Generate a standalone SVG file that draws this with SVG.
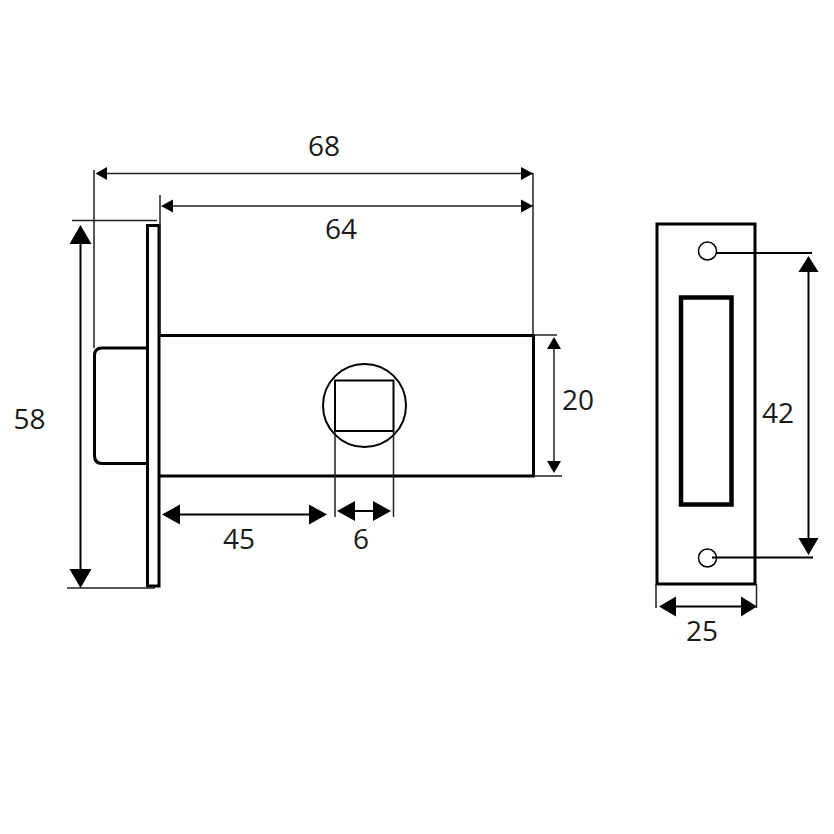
<svg xmlns="http://www.w3.org/2000/svg" width="834" height="834" viewBox="0 0 834 834">
<style>
text{font-family:"Open Sans","Noto Sans",sans-serif;font-size:28px;fill:#1a1a1a;text-anchor:middle}
.o{fill:none;stroke:#000;stroke-width:3}
.l{fill:none;stroke:#222;stroke-width:1.500}
.d{fill:none;stroke:#000;stroke-width:2}
.h{fill:#000;stroke:none}
</style>
<rect width="834" height="834" fill="#fff"/>
<g id="lock">
<path id="bolt" class="o" d="M147.500 348H102Q94.500 348 94.500 355.500V455.500Q94.500 463.500 102 463.500H147.500"/>
<rect id="plate" class="o" x="147.500" y="225.500" width="11.500" height="360.500"/>
<path id="body" class="o" d="M160 335.500H533.500V476H160"/>
<path id="body-edge" class="o" d="M533.500 335.500V375"/>
<circle id="spindle" cx="364.500" cy="405.500" r="41.500" fill="none" stroke="#000" stroke-width="2"/>
<rect id="square" x="335" y="380.500" width="58.500" height="50.500" fill="none" stroke="#000" stroke-width="2"/>
</g>
<g id="strike">
<rect id="strike-plate" class="o" x="657" y="224" width="98" height="360"/>
<rect id="slot" x="681" y="297.500" width="50.500" height="207" fill="none" stroke="#000" stroke-width="4.500"/>
<circle id="hole-top" cx="707.500" cy="251" r="9" fill="none" stroke="#000" stroke-width="1.500"/>
<circle id="hole-bottom" cx="707.500" cy="558" r="9" fill="none" stroke="#000" stroke-width="1.500"/>
</g>
<g id="connectors">
<path class="l" d="M94 170V348M160 195V335M533 173V335M72 220.500H157M67 588H155M533 335H557M533 476H562M335 431V517M393.500 431V517M656 584V608M756.500 584V608M107 173.500H533M173 206H533M554 349V461"/>
<path class="d" d="M80.500 244V569M180 514.500H309M355 511H373M808.500 272V538M676 606.500H741M717 253H812M712 557.500H813"/>
<path class="h" d="M95.500 173.500L107 167V180ZM533 173.500L521 167V180ZM161 206L173 199.500V212.500ZM533 206L521 199.500V212.500ZM80.500 225L91.500 244H69.500ZM80.500 588L91.500 569H69.500ZM162 514.500L180 504.500V524.500ZM327 514.500L309 504.500V524.500ZM337 511L355 501V521ZM391 511L373 501V521ZM554 337L561 349H547ZM554 473L561 461H547ZM808.500 256L818.500 272H798.500ZM808.500 555L818.500 538H798.500ZM659 606.500L676 596.500V616.500ZM757 606.500L741 596.500V616.500Z"/>
</g>
<g id="labels">
<text x="324" y="155.500">68</text>
<text x="341" y="238.500">64</text>
<text x="29.500" y="428.500">58</text>
<text x="239" y="548.500">45</text>
<text x="361" y="548.500">6</text>
<text x="578" y="409.500">20</text>
<text x="778" y="422.500">42</text>
<text x="702" y="640.500">25</text>
</g>
</svg>
